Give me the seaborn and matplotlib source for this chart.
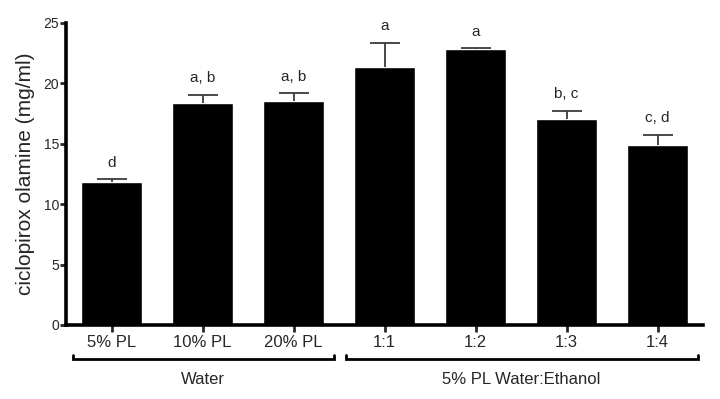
import numpy as np
import pandas as pd
import matplotlib
matplotlib.use("Agg")
import matplotlib.pyplot as plt
import matplotlib.transforms as mtransforms
import seaborn as sns

## Data
formulations = ["5% PL", "10% PL", "20% PL", "1:1", "1:2", "1:3", "1:4"]
means = [11.85, 18.4, 18.5, 21.3, 22.8, 17.05, 14.85]
sem = [0.2, 0.65, 0.65, 2.05, 0.08, 0.65, 0.88]
letters = ["d", "a, b", "a, b", "a", "a", "b, c", "c, d"]
groups = ["Water", "5% PL Water:Ethanol"]
group_members = [["5% PL", "10% PL", "20% PL"], ["1:1", "1:2", "1:3", "1:4"]]

df = pd.DataFrame({"Formulation": formulations, "Conc": means, "SEM": sem})

sns.set_style("ticks")
plt.rcParams["font.family"] = ["Liberation Sans", "DejaVu Sans"]

fig = plt.figure(figsize=(7.2, 3.99), dpi=100)
ax = fig.add_axes([0.0917, 0.1855, 0.8847, 0.7575])

sns.barplot(data=df, x="Formulation", y="Conc", order=formulations, color="black",
            saturation=1, width=0.66, errorbar=None, ax=ax)

# one-sided error bars (upper only), hide the lower cap
x = np.arange(len(formulations))
eb = ax.errorbar(x, df["Conc"], yerr=[np.zeros(len(x)), df["SEM"]], fmt="none",
                 ecolor="#3a3a3a", elinewidth=1.3, capsize=11, capthick=1.3)
eb[1][0].set_visible(False)

# significance letters
for xi, m, s, lab in zip(x, means, sem, letters):
    ax.annotate(lab, (xi, m + s), xytext=(0, 7), textcoords="offset points",
                ha="center", va="bottom", fontsize=11)

ax.set_xlim(-0.5, 6.5)
ax.set_ylim(0, 25)
ax.set_yticks([0, 5, 10, 15, 20, 25])
ax.set_xlabel("")
ax.set_ylabel("ciclopirox olamine (mg/ml)", fontsize=15, labelpad=6)
ax.tick_params(axis="y", labelsize=10, width=2, length=4, pad=1)
ax.tick_params(axis="x", labelsize=12, width=2, length=5, pad=2)
for side in ["left", "bottom"]:
    ax.spines[side].set_linewidth(2.6)
    ax.spines[side].set_color("black")
sns.despine(ax=ax)

# group brackets under the tick labels
trans = mtransforms.blended_transform_factory(ax.transData, ax.transAxes)
for name, members in zip(groups, group_members):
    idx = [formulations.index(m) for m in members]
    x0, x1 = idx[0] - 0.42, idx[-1] + 0.45
    ax.plot([x0, x0, x1, x1], [-0.099, -0.113, -0.113, -0.099], color="black",
            lw=2, transform=trans, clip_on=False, solid_joinstyle="miter")
    ax.text((idx[0] + idx[-1]) / 2, -0.182, name, transform=trans,
            ha="center", va="center", fontsize=12)

fig.savefig("out.png", dpi=100)
